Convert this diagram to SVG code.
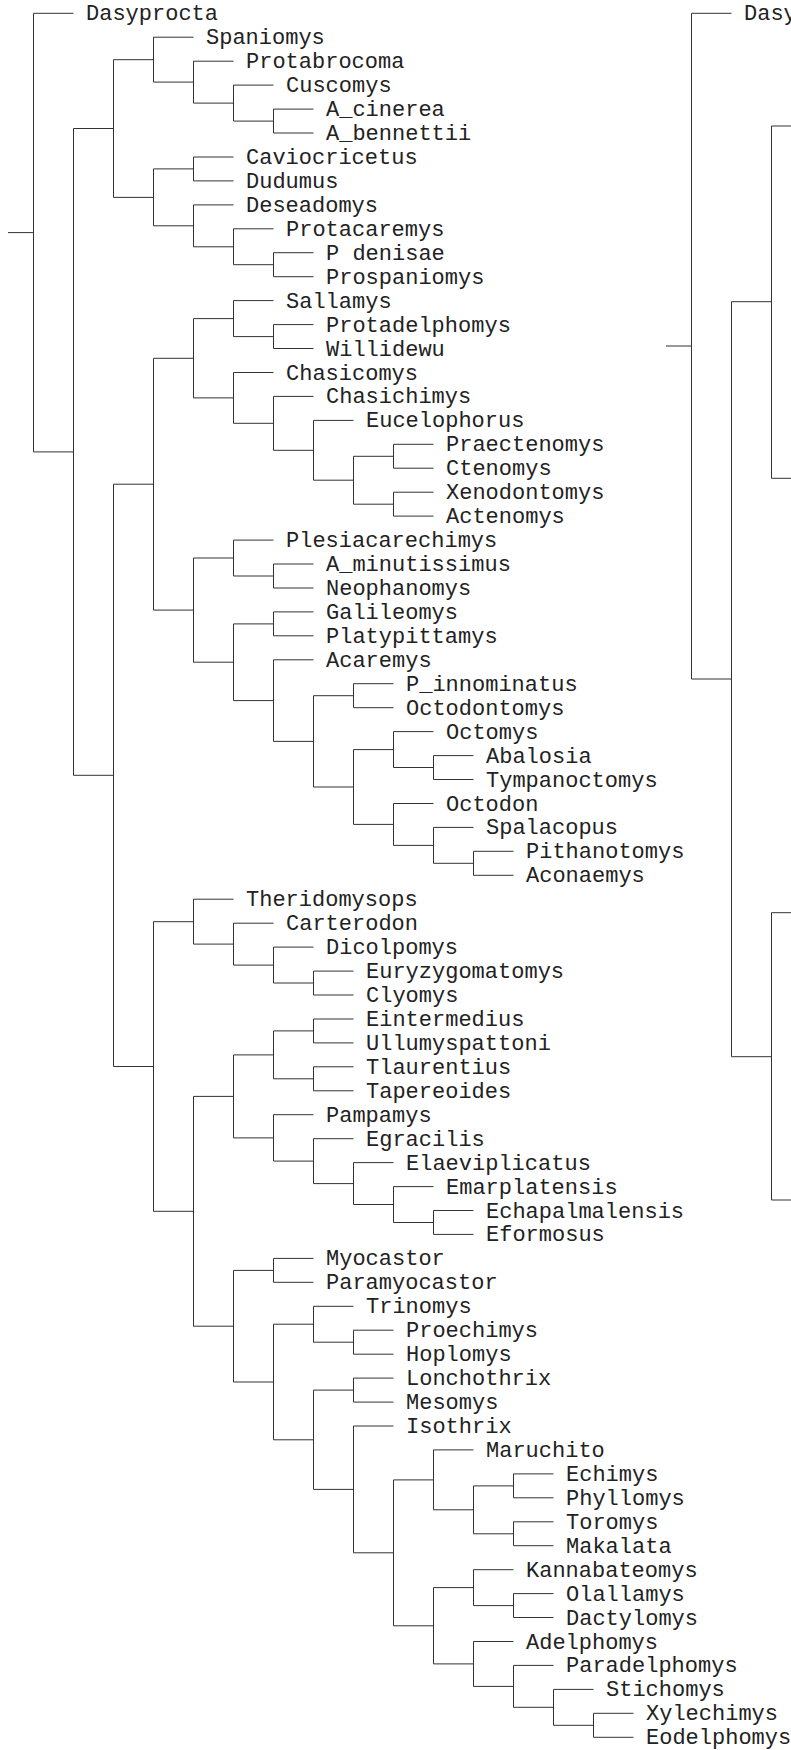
<svg xmlns="http://www.w3.org/2000/svg" width="791" height="1750" viewBox="0 0 791 1750">
<style>
.e{fill:none;stroke:#333;stroke-width:1}
text{font-family:"Liberation Mono","Courier New",monospace;font-size:22px;fill:#222}
</style>
<rect width="791" height="1750" fill="#fff"/>
<g id="connectors" class="e">
<path d="M8 232.6H33.5M73.5 13.3H33.5V451.9H73.5"/>
<path d="M113.5 128.5H73.5V775.3H113.5"/>
<path d="M153.5 59.7H113.5V197.4H153.5"/>
<path d="M193.5 37.2H153.5V82.1H193.5"/>
<path d="M233.5 61.2H193.5V103.1H233.5"/>
<path d="M273.5 85.1H233.5V121.1H273.5"/>
<path d="M313.5 109.1H273.5V133H313.5"/>
<path d="M193.5 168.9H153.5V225.8H193.5"/>
<path d="M233.5 157H193.5V180.9H233.5"/>
<path d="M233.5 204.9H193.5V246.8H233.5"/>
<path d="M273.5 228.8H233.5V264.7H273.5"/>
<path d="M313.5 252.7H273.5V276.7H313.5"/>
<path d="M153.5 484.2H113.5V1066.5H153.5"/>
<path d="M193.5 358.3H153.5V610.1H193.5"/>
<path d="M233.5 318.6H193.5V397.9H233.5"/>
<path d="M273.5 300.6H233.5V336.6H273.5"/>
<path d="M313.5 324.6H273.5V348.5H313.5"/>
<path d="M273.5 372.5H233.5V423.3H273.5"/>
<path d="M313.5 396.4H273.5V450.3H313.5"/>
<path d="M353.5 420.4H313.5V480.2H353.5"/>
<path d="M393.5 456.3H353.5V504.2H393.5"/>
<path d="M433.5 444.3H393.5V468.2H433.5"/>
<path d="M433.5 492.2H393.5V516.1H433.5"/>
<path d="M233.5 558H193.5V662.2H233.5"/>
<path d="M273.5 540.1H233.5V576H273.5"/>
<path d="M313.5 564H273.5V588H313.5"/>
<path d="M273.5 623.9H233.5V700.6H273.5"/>
<path d="M313.5 611.9H273.5V635.8H313.5"/>
<path d="M313.5 659.8H273.5V741.4H313.5"/>
<path d="M353.5 695.7H313.5V787H353.5"/>
<path d="M393.5 683.7H353.5V707.7H393.5"/>
<path d="M393.5 749.6H353.5V824.4H393.5"/>
<path d="M433.5 731.6H393.5V767.5H433.5"/>
<path d="M473.5 755.6H433.5V779.5H473.5"/>
<path d="M433.5 803.5H393.5V845.4H433.5"/>
<path d="M473.5 827.4H433.5V863.3H473.5"/>
<path d="M513.5 851.3H473.5V875.3H513.5"/>
<path d="M193.5 921.7H153.5V1211.3H193.5"/>
<path d="M233.5 899.2H193.5V944.1H233.5"/>
<path d="M273.5 923.2H233.5V965.1H273.5"/>
<path d="M313.5 947.1H273.5V983H313.5"/>
<path d="M353.5 971.1H313.5V995H353.5"/>
<path d="M233.5 1096.4H193.5V1326.2H233.5"/>
<path d="M273.5 1054.9H233.5V1137.9H273.5"/>
<path d="M313.5 1030.9H273.5V1078.8H313.5"/>
<path d="M353.5 1019H313.5V1042.9H353.5"/>
<path d="M353.5 1066.8H313.5V1090.8H353.5"/>
<path d="M313.5 1114.7H273.5V1161.1H313.5"/>
<path d="M353.5 1138.7H313.5V1183.6H353.5"/>
<path d="M393.5 1162.6H353.5V1204.5H393.5"/>
<path d="M433.5 1186.6H393.5V1222.5H433.5"/>
<path d="M473.5 1210.5H433.5V1234.4H473.5"/>
<path d="M273.5 1270.4H233.5V1382H273.5"/>
<path d="M313.5 1258.4H273.5V1282.3H313.5"/>
<path d="M313.5 1324.2H273.5V1439.8H313.5"/>
<path d="M353.5 1306.3H313.5V1342.2H353.5"/>
<path d="M393.5 1330.2H353.5V1354.2H393.5"/>
<path d="M353.5 1390.1H313.5V1489.4H353.5"/>
<path d="M393.5 1378.1H353.5V1402.1H393.5"/>
<path d="M393.5 1426H353.5V1552.8H393.5"/>
<path d="M433.5 1479.9H393.5V1625.8H433.5"/>
<path d="M473.5 1449.9H433.5V1509.8H473.5"/>
<path d="M513.5 1485.9H473.5V1533.8H513.5"/>
<path d="M553.5 1473.9H513.5V1497.8H553.5"/>
<path d="M553.5 1521.8H513.5V1545.7H553.5"/>
<path d="M473.5 1587.6H433.5V1663.9H473.5"/>
<path d="M513.5 1569.7H473.5V1605.6H513.5"/>
<path d="M553.5 1593.6H513.5V1617.5H553.5"/>
<path d="M513.5 1641.5H473.5V1686.4H513.5"/>
<path d="M553.5 1665.4H513.5V1707.3H553.5"/>
<path d="M593.5 1689.4H553.5V1725.3H593.5"/>
<path d="M633.5 1713.3H593.5V1737.3H633.5"/>
<path d="M666 346H691.5M731.5 13.3H691.5V679H731.5"/>
<path d="M771.5 301.7H731.5V1056.7H771.5"/>
<path d="M791 126H771.5V478.3H791"/>
<path d="M791 912.7H771.5V1200H791"/>
</g>
<g id="leaf-Dasyprocta"><text x="86" y="20.3">Dasyprocta</text></g>
<g id="leaf-Spaniomys"><text x="206" y="44.2">Spaniomys</text></g>
<g id="leaf-Protabrocoma"><text x="246" y="68.2">Protabrocoma</text></g>
<g id="leaf-Cuscomys"><text x="286" y="92.1">Cuscomys</text></g>
<g id="leaf-A_cinerea"><text x="326" y="116.1">A_cinerea</text></g>
<g id="leaf-A_bennettii"><text x="326" y="140">A_bennettii</text></g>
<g id="leaf-Caviocricetus"><text x="246" y="164">Caviocricetus</text></g>
<g id="leaf-Dudumus"><text x="246" y="187.9">Dudumus</text></g>
<g id="leaf-Deseadomys"><text x="246" y="211.9">Deseadomys</text></g>
<g id="leaf-Protacaremys"><text x="286" y="235.8">Protacaremys</text></g>
<g id="leaf-P_denisae"><text x="326" y="259.7">P denisae</text></g>
<g id="leaf-Prospaniomys"><text x="326" y="283.7">Prospaniomys</text></g>
<g id="leaf-Sallamys"><text x="286" y="307.6">Sallamys</text></g>
<g id="leaf-Protadelphomys"><text x="326" y="331.6">Protadelphomys</text></g>
<g id="leaf-Willidewu"><text x="326" y="355.5">Willidewu</text></g>
<g id="leaf-Chasicomys"><text x="286" y="379.5">Chasicomys</text></g>
<g id="leaf-Chasichimys"><text x="326" y="403.4">Chasichimys</text></g>
<g id="leaf-Eucelophorus"><text x="366" y="427.4">Eucelophorus</text></g>
<g id="leaf-Praectenomys"><text x="446" y="451.3">Praectenomys</text></g>
<g id="leaf-Ctenomys"><text x="446" y="475.2">Ctenomys</text></g>
<g id="leaf-Xenodontomys"><text x="446" y="499.2">Xenodontomys</text></g>
<g id="leaf-Actenomys"><text x="446" y="523.1">Actenomys</text></g>
<g id="leaf-Plesiacarechimys"><text x="286" y="547.1">Plesiacarechimys</text></g>
<g id="leaf-A_minutissimus"><text x="326" y="571">A_minutissimus</text></g>
<g id="leaf-Neophanomys"><text x="326" y="595">Neophanomys</text></g>
<g id="leaf-Galileomys"><text x="326" y="618.9">Galileomys</text></g>
<g id="leaf-Platypittamys"><text x="326" y="642.8">Platypittamys</text></g>
<g id="leaf-Acaremys"><text x="326" y="666.8">Acaremys</text></g>
<g id="leaf-P_innominatus"><text x="406" y="690.7">P_innominatus</text></g>
<g id="leaf-Octodontomys"><text x="406" y="714.7">Octodontomys</text></g>
<g id="leaf-Octomys"><text x="446" y="738.6">Octomys</text></g>
<g id="leaf-Abalosia"><text x="486" y="762.6">Abalosia</text></g>
<g id="leaf-Tympanoctomys"><text x="486" y="786.5">Tympanoctomys</text></g>
<g id="leaf-Octodon"><text x="446" y="810.5">Octodon</text></g>
<g id="leaf-Spalacopus"><text x="486" y="834.4">Spalacopus</text></g>
<g id="leaf-Pithanotomys"><text x="526" y="858.3">Pithanotomys</text></g>
<g id="leaf-Aconaemys"><text x="526" y="882.3">Aconaemys</text></g>
<g id="leaf-Theridomysops"><text x="246" y="906.2">Theridomysops</text></g>
<g id="leaf-Carterodon"><text x="286" y="930.2">Carterodon</text></g>
<g id="leaf-Dicolpomys"><text x="326" y="954.1">Dicolpomys</text></g>
<g id="leaf-Euryzygomatomys"><text x="366" y="978.1">Euryzygomatomys</text></g>
<g id="leaf-Clyomys"><text x="366" y="1002">Clyomys</text></g>
<g id="leaf-Eintermedius"><text x="366" y="1026">Eintermedius</text></g>
<g id="leaf-Ullumyspattoni"><text x="366" y="1049.9">Ullumyspattoni</text></g>
<g id="leaf-Tlaurentius"><text x="366" y="1073.8">Tlaurentius</text></g>
<g id="leaf-Tapereoides"><text x="366" y="1097.8">Tapereoides</text></g>
<g id="leaf-Pampamys"><text x="326" y="1121.7">Pampamys</text></g>
<g id="leaf-Egracilis"><text x="366" y="1145.7">Egracilis</text></g>
<g id="leaf-Elaeviplicatus"><text x="406" y="1169.6">Elaeviplicatus</text></g>
<g id="leaf-Emarplatensis"><text x="446" y="1193.6">Emarplatensis</text></g>
<g id="leaf-Echapalmalensis"><text x="486" y="1217.5">Echapalmalensis</text></g>
<g id="leaf-Eformosus"><text x="486" y="1241.4">Eformosus</text></g>
<g id="leaf-Myocastor"><text x="326" y="1265.4">Myocastor</text></g>
<g id="leaf-Paramyocastor"><text x="326" y="1289.3">Paramyocastor</text></g>
<g id="leaf-Trinomys"><text x="366" y="1313.3">Trinomys</text></g>
<g id="leaf-Proechimys"><text x="406" y="1337.2">Proechimys</text></g>
<g id="leaf-Hoplomys"><text x="406" y="1361.2">Hoplomys</text></g>
<g id="leaf-Lonchothrix"><text x="406" y="1385.1">Lonchothrix</text></g>
<g id="leaf-Mesomys"><text x="406" y="1409.1">Mesomys</text></g>
<g id="leaf-Isothrix"><text x="406" y="1433">Isothrix</text></g>
<g id="leaf-Maruchito"><text x="486" y="1456.9">Maruchito</text></g>
<g id="leaf-Echimys"><text x="566" y="1480.9">Echimys</text></g>
<g id="leaf-Phyllomys"><text x="566" y="1504.8">Phyllomys</text></g>
<g id="leaf-Toromys"><text x="566" y="1528.8">Toromys</text></g>
<g id="leaf-Makalata"><text x="566" y="1552.7">Makalata</text></g>
<g id="leaf-Kannabateomys"><text x="526" y="1576.7">Kannabateomys</text></g>
<g id="leaf-Olallamys"><text x="566" y="1600.6">Olallamys</text></g>
<g id="leaf-Dactylomys"><text x="566" y="1624.5">Dactylomys</text></g>
<g id="leaf-Adelphomys"><text x="526" y="1648.5">Adelphomys</text></g>
<g id="leaf-Paradelphomys"><text x="566" y="1672.4">Paradelphomys</text></g>
<g id="leaf-Stichomys"><text x="606" y="1696.4">Stichomys</text></g>
<g id="leaf-Xylechimys"><text x="646" y="1720.3">Xylechimys</text></g>
<g id="leaf-Eodelphomys"><text x="646" y="1744.3">Eodelphomys</text></g>
<g id="leaf-Dasyprocta-right"><text x="744" y="20.3">Dasy</text></g>
</svg>
